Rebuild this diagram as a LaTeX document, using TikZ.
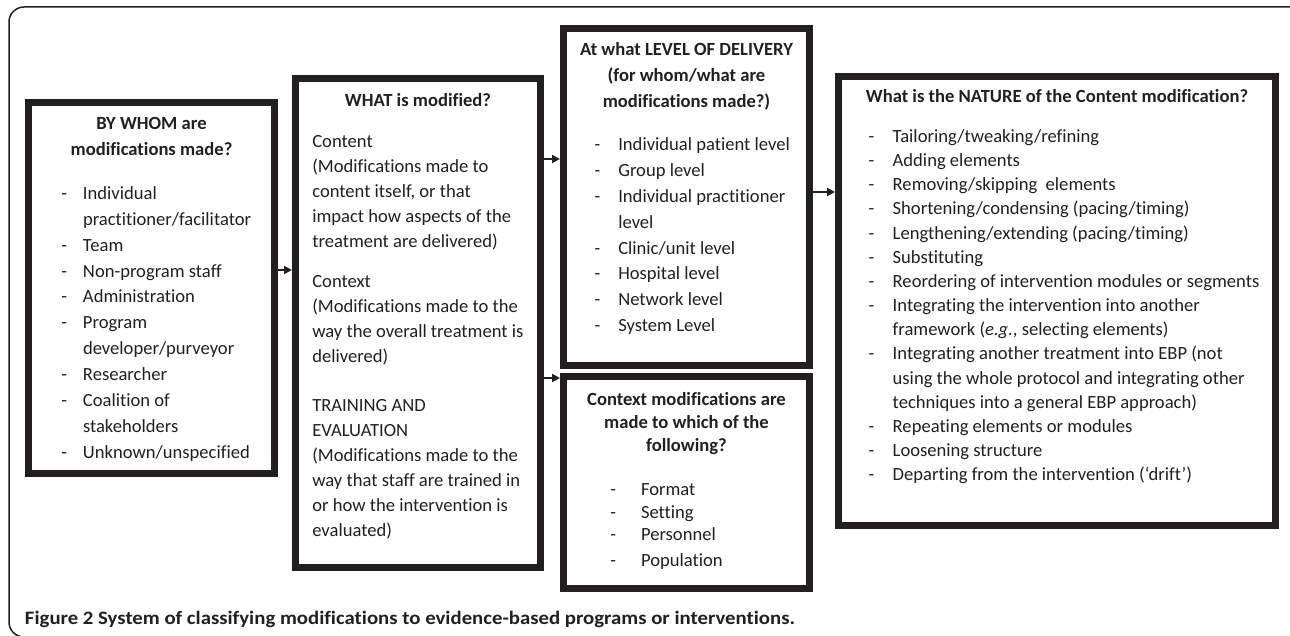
\documentclass[tikz,border=0pt]{standalone}
\usepackage{fontspec}
\usepackage{graphicx}
\setmainfont{Carlito}[Ligatures=NoCommon]
\usetikzlibrary{arrows.meta}
\definecolor{ink}{HTML}{231F20}
\newcommand{\dsh}[1]{\llap{-\hspace{#1pt}}}
\tikzset{
  box/.style={draw=ink, line width=7pt, rectangle, inner sep=0pt},
  txt/.style={inner sep=0pt, outer sep=0pt, anchor=base west, text=ink, font=\fontsize{18.6}{24}\selectfont},
  ttl/.style={inner sep=0pt, outer sep=0pt, anchor=base, text=ink, font=\bfseries\fontsize{18.6}{24}\selectfont},
  arr/.style={draw=ink, line width=2pt, -{Triangle[length=8pt,width=8pt]}},
  frame/.style={draw=ink, line width=1.5pt, rounded corners=15pt}
}
\begin{document}
\begin{tikzpicture}[x=1pt,y=-1pt]
\useasboundingbox (0,0) rectangle (1290,636);
\draw[frame] (1300,7) -- (9,7) -- (9,637) -- (1300,637);

% boxes
\node[box, minimum width=246pt, minimum height=371pt] (b1) at (151.5,288) {};
\node[box, minimum width=245pt, minimum height=489pt] (b2) at (418,323) {};
\node[box, minimum width=246pt, minimum height=337pt] (b3) at (686.5,197) {};
\node[box, minimum width=246pt, minimum height=212pt] (b4) at (686.5,482.5) {};
\node[box, minimum width=437pt, minimum height=449pt] (b5) at (1057,301) {};

% box 1
\node[ttl] (b1t1) at (151.5,130) {BY WHOM are};
\node[ttl] (b1t2) at (151.5,156) {modifications made?};
\foreach \t [count=\i from 0] in {
  {\dsh{16}Individual},
  {practitioner/facilitator},
  {\dsh{16}Team},
  {\dsh{16}Non-program staff},
  {\dsh{16}Administration},
  {\dsh{16}Program},
  {developer/purveyor},
  {\dsh{16}Researcher},
  {\dsh{16}Coalition of},
  {stakeholders},
  {\dsh{16}Unknown/unspecified}}
  \node[txt] (b1i\i) at (83,{199.5+25.85*\i}) {\t};

% box 2
\node[ttl] (b2t) at (418,106.7) {WHAT is modified?};
\foreach \y/\t [count=\i] in {
  147.3/{Content},
  172.3/{(Modifications made to},
  197.3/{content itself, or that},
  222.3/{impact how aspects of the},
  247.3/{treatment are delivered)},
  287.3/{Context},
  312.3/{(Modifications made to the},
  337.3/{way the overall treatment is},
  362.3/{delivered)},
  411.5/{TRAINING AND},
  436.5/{EVALUATION},
  461.5/{(Modifications made to the},
  486.5/{way that staff are trained in},
  511.5/{or how the intervention is},
  536.5/{evaluated)}}
  \node[txt] (b2i\i) at (312.3,\y) {\t};

% box 3
\node[ttl] (b3t1) at (686.5,56) {At what LEVEL OF DELIVERY};
\node[ttl] (b3t2) at (686.5,82) {(for whom/what are};
\node[ttl] (b3t3) at (686.5,107.7) {modifications made?)};
\foreach \t [count=\i from 0] in {
  {\dsh{18}Individual patient level},
  {\dsh{18}Group level},
  {\dsh{18}Individual practitioner},
  {level},
  {\dsh{18}Clinic/unit level},
  {\dsh{18}Hospital level},
  {\dsh{18}Network level},
  {\dsh{18}System Level}}
  \node[txt] (b3i\i) at (618.3,{150.7+25.85*\i}) {\t};

% box 4
\node[ttl] (b4t1) at (686.5,405.7) {Context modifications are};
\node[ttl] (b4t2) at (686.5,428.3) {made to which of the};
\node[ttl] (b4t3) at (686.5,451) {following?};
\foreach \y/\t [count=\i] in {
  495.7/{Format},
  518.3/{Setting},
  540.7/{Personnel},
  566.7/{Population}}
  \node[txt] (b4i\i) at (641,\y) {\dsh{25}\t};

% box 5
\node[ttl] (b5t) at (1057,102.7) {What is the NATURE of the Content modification?};
\foreach \t [count=\i from 0] in {
  {\dsh{18.5}Tailoring/tweaking/refining},
  {\dsh{18.5}Adding elements},
  {\dsh{18.5}Removing/skipping~ elements},
  {\dsh{18.5}Shortening/condensing (pacing/timing)},
  {\dsh{18.5}Lengthening/extending (pacing/timing)},
  {\dsh{18.5}Substituting},
  {\dsh{18.5}Reordering of intervention modules or segments},
  {\dsh{18.5}Integrating the intervention into another},
  {framework (\emph{e.g.}, selecting elements)},
  {\dsh{18.5}Integrating another treatment into EBP (not},
  {using the whole protocol and integrating other},
  {techniques into a general EBP approach)},
  {\dsh{18.5}Repeating elements or modules},
  {\dsh{18.5}Loosening structure},
  {\dsh{18.5}Departing from the intervention (‘drift’)}}
  \node[txt] (b5i\i) at (892.7,{142.3+24.18*\i}) {\t};

% connectors
\coordinate (y1) at (0,270);
\coordinate (y2) at (0,159);
\coordinate (y3) at (0,378);
\coordinate (y4) at (0,192);
\draw[arr] (b1.east |- y1) -- (b2.west |- y1);
\draw[arr] (b2.east |- y2) -- (b3.west |- y2);
\draw[arr] (b2.east |- y3) -- (b4.west |- y3);
\draw[arr] (b3.east |- y4) -- (b5.west |- y4);

% caption
\node[inner sep=0pt, outer sep=0pt, anchor=base west, text=ink, font=\bfseries\fontsize{19}{22}\selectfont] (cap) at (25,624)
  {\resizebox{770pt}{\height}{Figure 2 System of classifying modifications to evidence-based programs or interventions.}};
\end{tikzpicture}
\end{document}
